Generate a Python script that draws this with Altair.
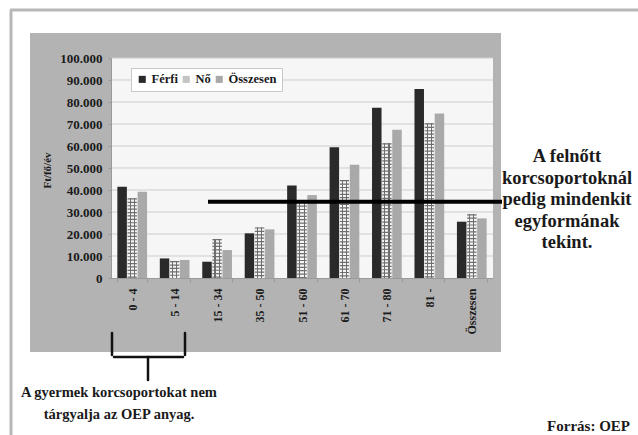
import altair as alt
import pandas as pd

groups = ["0 - 4", "5 - 14", "15 - 34", "35 - 50", "51 - 60", "61 - 70", "71 - 80", "81 -", "Összesen"]
series = ["Férfi", "Nő", "Összesen"]
ferfi = [41500, 8900, 7400, 20300, 42000, 59400, 77400, 85900, 25600]
no = [36200, 7700, 17700, 23000, 34500, 44500, 61200, 70300, 29000]
osszesen = [39200, 8200, 12700, 22100, 37700, 51500, 67400, 74800, 27100]
y_ticks = [0, 10000, 20000, 30000, 40000, 50000, 60000, 70000, 80000, 90000, 100000]
adult_level = 34700
note_right = ["A felnőtt", "korcsoportoknál", "pedig mindenkit", "egyformának", "tekint."]
note_bottom = ["A gyermek korcsoportokat nem", "tárgyalja az OEP anyag."]
source = "Forrás: OEP"
y_title = "Ft/fő/év"

rows = []
for i, g in enumerate(groups):
    for s, vals in zip(series, [ferfi, no, osszesen]):
        rows.append({"group": g, "series": s, "value": vals[i]})
df = pd.DataFrame(rows)
one = pd.DataFrame({"k": [0]})
grid_df = pd.DataFrame({"value": y_ticks[1:]})

FONT = "Liberation Serif"
W, H = 382, 220

x_enc = alt.X("group:N", sort=groups,
              scale=alt.Scale(domain=groups, paddingInner=0.3, paddingOuter=0.15),
              axis=alt.Axis(title=None, labelAngle=-90, labelFont=FONT, labelFontSize=12,
                            labelFontWeight="bold", labelColor="#1a1a1a", labelPadding=6,
                            tickBand="extent", tickSize=4, tickColor="#9a9a9a",
                            domainColor="#9a9a9a", grid=False, zindex=1))
xo_enc = alt.XOffset("series:N", scale=alt.Scale(domain=series, paddingInner=0.06, paddingOuter=0))
y_enc = alt.Y("value:Q", scale=alt.Scale(domain=[0, 100000], nice=False),
              axis=alt.Axis(values=y_ticks, tickCount=11, grid=False, zindex=1, labelOverlap=False,
                            labelExpr="replace(format(datum.value, ','), ',', '.')",
                            labelFont=FONT, labelFontSize=13, labelFontWeight="bold",
                            labelColor="#1a1a1a", labelPadding=6, tickSize=3,
                            tickColor="#9a9a9a", domainColor="#9a9a9a",
                            title=y_title, titleFont=FONT, titleFontSize=11,
                            titleFontWeight="bold", titleColor="#1a1a1a",
                            titleX=-64, titleY=112, titleAlign="center",
                            titleBaseline="middle", titleAngle=270))

frame_top = alt.Chart(one).mark_rule(color="#b8b8b8", strokeWidth=3).encode(
    x=alt.value(-101), x2=alt.value(527), y=alt.value(-48))
frame_left = alt.Chart(one).mark_rule(color="#b8b8b8", strokeWidth=3).encode(
    x=alt.value(-100), y=alt.value(-48), y2=alt.value(377))
gray_box = alt.Chart(one).mark_rect(color="#b3b3b3").encode(
    x=alt.value(-81), x2=alt.value(390), y=alt.value(-25), y2=alt.value(294))
plot_bg = alt.Chart(one).mark_rect(color="#f6f6f6").encode(
    x=alt.value(0), x2=alt.value(W), y=alt.value(0), y2=alt.value(H))
grid = alt.Chart(grid_df).mark_rule(color="#cdcdcd", strokeWidth=1).encode(y=y_enc)

bars = alt.Chart(df).mark_bar().encode(
    x=x_enc, xOffset=xo_enc, y=y_enc,
    color=alt.Color("series:N", scale=alt.Scale(domain=series, range=["#2a2a2a", "#c4c4c4", "#a9a9a9"]),
                    legend=alt.Legend(orient="none", legendX=20, legendY=10, direction="horizontal",
                                      title=None, symbolType="square", symbolSize=50,
                                      symbolStrokeWidth=0, labelFont=FONT, labelFontSize=12.5,
                                      labelFontWeight="bold", labelColor="#1a1a1a",
                                      fillColor="white", strokeColor="#c8c8c8", padding=5,
                                      columnPadding=2, labelOffset=3)))

pattern = alt.Gradient(
    gradient="linear", x1=0, x2=1, y1=0, y2=0,
    stops=[alt.GradientStop(color="#f4f4f4", offset=0),
           alt.GradientStop(color="#f4f4f4", offset=0.22),
           alt.GradientStop(color="#6e6e6e", offset=0.22),
           alt.GradientStop(color="#6e6e6e", offset=0.34),
           alt.GradientStop(color="#f4f4f4", offset=0.34),
           alt.GradientStop(color="#f4f4f4", offset=0.66),
           alt.GradientStop(color="#6e6e6e", offset=0.66),
           alt.GradientStop(color="#6e6e6e", offset=0.78),
           alt.GradientStop(color="#f4f4f4", offset=0.78),
           alt.GradientStop(color="#f4f4f4", offset=1)])
no_bars = alt.Chart(df).transform_filter(alt.datum.series == "Nő").mark_bar(fill=pattern).encode(
    x=alt.X("group:N", sort=groups), xOffset=alt.XOffset("series:N"), y=alt.Y("value:Q"))
no_lines = alt.Chart(df).transform_filter(alt.datum.series == "Nő").mark_rule(
    color="#6e6e6e", strokeWidth=9.3, strokeDash=[1.2, 2.2]).encode(
    x=alt.X("group:N", sort=groups), xOffset=alt.XOffset("series:N"),
    y=alt.Y("value:Q"), y2=alt.datum(0))

adult_line = alt.Chart(one).mark_rule(color="black", strokeWidth=4).encode(
    y=alt.datum(adult_level), x=alt.value(97), x2=alt.value(391))

txt_right = alt.Chart(one).mark_text(text=note_right, font=FONT, fontSize=18.5, fontWeight="bold",
                                     align="center", baseline="alphabetic", lineHeight=21.6,
                                     color="#1a1a1a").encode(x=alt.value(456), y=alt.value(104))
txt_bottom = alt.Chart(one).mark_text(text=note_bottom, font=FONT, fontSize=14.5, fontWeight="bold",
                                      align="center", baseline="alphabetic", lineHeight=21.5,
                                      color="#1a1a1a").encode(x=alt.value(8), y=alt.value(339))
txt_source = alt.Chart(one).mark_text(text=source, font=FONT, fontSize=15, fontWeight="bold",
                                      align="right", baseline="alphabetic",
                                      color="#1a1a1a").encode(x=alt.value(519), y=alt.value(373))

brace_style = dict(color="#111111", strokeWidth=2.5, strokeCap="round")
brace_l = alt.Chart(one).mark_rule(**brace_style).encode(x=alt.value(1), y=alt.value(275), y2=alt.value(297))
brace_r = alt.Chart(one).mark_rule(**brace_style).encode(x=alt.value(74), y=alt.value(275), y2=alt.value(297))
brace_b = alt.Chart(one).mark_rule(**brace_style).encode(x=alt.value(3), x2=alt.value(72), y=alt.value(299))
brace_s = alt.Chart(one).mark_rule(**brace_style).encode(x=alt.value(37), y=alt.value(299), y2=alt.value(322))

chart = alt.layer(
    frame_top, frame_left, gray_box, plot_bg, grid, bars, no_bars, no_lines, adult_line,
    txt_right, txt_bottom, txt_source, brace_l, brace_r, brace_b, brace_s
).properties(
    width=W, height=H,
    autosize=alt.AutoSizeParams(type="none"),
    padding={"left": 111, "top": 58, "right": 145, "bottom": 157},
    background="white",
).configure_view(stroke=None)

chart.save("out.html", embed_options={"renderer": "svg", "actions": False})
